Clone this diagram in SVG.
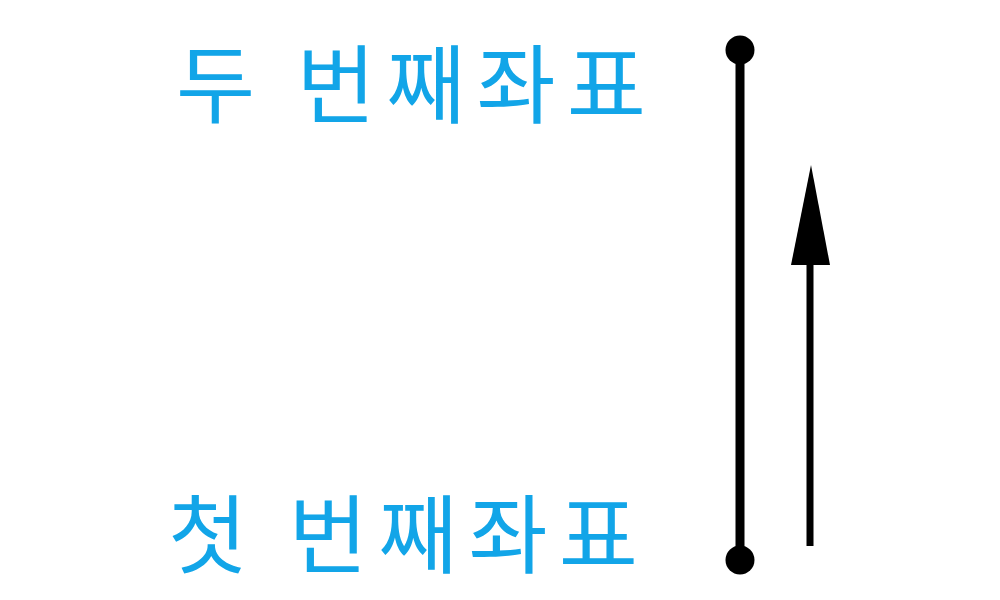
<svg xmlns="http://www.w3.org/2000/svg" width="1000" height="600" viewBox="0 0 1000 600">
<style>
.lbl{font-family:"Noto Sans CJK KR","Noto Sans",sans-serif;font-size:86px;font-weight:400;letter-spacing:11px;fill:#12a5e8;white-space:pre}
.ln{stroke:#000;fill:none}
</style>
<rect width="1000" height="600" fill="#fff"/>
<g id="label-second"><text class="lbl" x="176" y="117">두 번째좌표</text></g>
<g id="label-first"><text class="lbl" x="168" y="567">첫 번째좌표</text></g>
<g id="connectors">
<line class="ln" x1="740" y1="50" x2="740" y2="560" stroke-width="9"/>
<circle cx="740" cy="50" r="14.5" fill="#000"/>
<circle cx="740" cy="560" r="14.5" fill="#000"/>
<line class="ln" x1="810" y1="546" x2="810" y2="262" stroke-width="7"/>
<polygon points="791,265 830,265 811,165" fill="#000"/>
</g>
</svg>
